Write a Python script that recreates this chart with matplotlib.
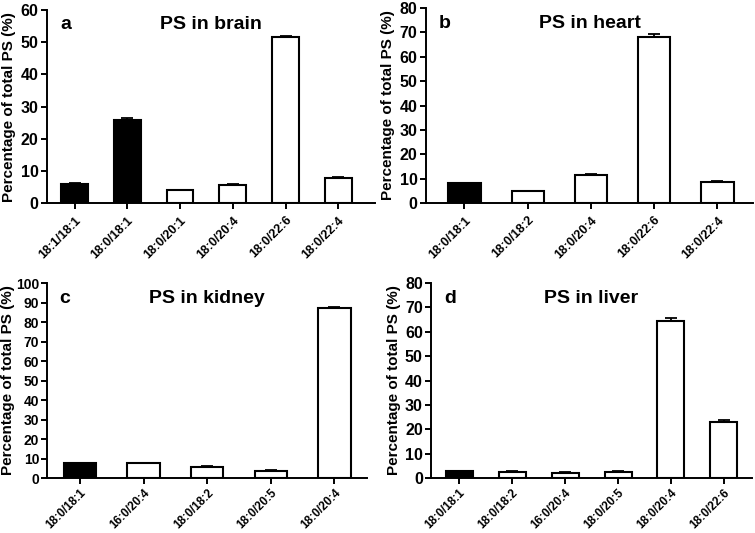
import matplotlib
matplotlib.use('Agg')
import matplotlib.pyplot as plt

plt.rcParams['font.family'] = ['Liberation Sans', 'DejaVu Sans']
plt.rcParams['font.weight'] = 'bold'
plt.rcParams['axes.labelweight'] = 'bold'

# data
brain_labels = ['18:1/18:1', '18:0/18:1', '18:0/20:1', '18:0/20:4', '18:0/22:6', '18:0/22:4']
brain_vals = [6.0, 25.8, 4.0, 5.6, 51.6, 7.8]
brain_err = [0.2, 0.5, 0.2, 0.2, 0.5, 0.2]
brain_black = [True, True, False, False, False, False]

heart_labels = ['18:0/18:1', '18:0/18:2', '18:0/20:4', '18:0/22:6', '18:0/22:4']
heart_vals = [8.1, 4.8, 11.6, 68.0, 8.7]
heart_err = [0.3, 0.3, 0.4, 1.2, 0.3]
heart_black = [True, False, False, False, False]

kidney_labels = ['18:0/18:1', '16:0/20:4', '18:0/18:2', '18:0/20:5', '18:0/20:4']
kidney_vals = [7.5, 7.5, 5.8, 3.8, 87.0]
kidney_err = [0.4, 0.3, 0.2, 0.2, 0.9]
kidney_black = [True, False, False, False, False]

liver_labels = ['18:0/18:1', '18:0/18:2', '16:0/20:4', '18:0/20:5', '18:0/20:4', '18:0/22:6']
liver_vals = [2.8, 2.6, 2.2, 2.7, 64.3, 23.0]
liver_err = [0.2, 0.2, 0.2, 0.2, 1.3, 0.8]
liver_black = [True, False, False, False, False, False]

panels = [
    # letter, title, labels, vals, err, black, ymax, rect, xlim, ytick font, bottom row
    ('a', 'PS in brain', brain_labels, brain_vals, brain_err, brain_black, 60,
     [0.062, 0.619, 0.435, 0.362], (-0.525, 5.7), 11.5, False),
    ('b', 'PS in heart', heart_labels, heart_vals, heart_err, heart_black, 80,
     [0.564, 0.619, 0.434, 0.366], (-0.61, 4.57), 11.5, False),
    ('c', 'PS in kidney', kidney_labels, kidney_vals, kidney_err, kidney_black, 100,
     [0.062, 0.103, 0.424, 0.366], (-0.52, 4.51), 10, True),
    ('d', 'PS in liver', liver_labels, liver_vals, liver_err, liver_black, 80,
     [0.571, 0.103, 0.425, 0.366], (-0.53, 5.53), 11.5, True),
]

fig = plt.figure(figsize=(7.55, 5.33), dpi=100)

for letter, title, labels, vals, err, black, ymax, rect, xlim, yfs, bottom in panels:
    ax = fig.add_axes(rect)
    x = list(range(len(vals)))
    colors = ['black' if b else 'white' for b in black]
    ax.bar(x, vals, width=0.51, color=colors, edgecolor='black', linewidth=1.5, zorder=2)
    ax.errorbar(x, vals, yerr=[[0] * len(err), err], fmt='none', ecolor='black',
                elinewidth=1.3, capsize=4, capthick=1.3, zorder=3)
    ax.set_xlim(*xlim)
    ax.set_ylim(0, ymax)
    ax.set_yticks(range(0, ymax + 1, 10))
    ax.set_xticks(x)
    ax.set_xticklabels(labels, rotation=45, ha='right', va='top',
                       rotation_mode='anchor', fontsize=8.5 if bottom else 9,
                       fontweight='bold')
    for lab in ax.get_yticklabels():
        lab.set_fontsize(yfs)
        lab.set_fontweight('bold')
    ax.tick_params(axis='both', direction='out', length=4, width=1.4)
    ax.tick_params(axis='x', pad=2.5 if bottom else 4)
    ax.tick_params(axis='y', pad=1.5 if ymax == 100 else 2)
    ax.spines['top'].set_visible(False)
    ax.spines['right'].set_visible(False)
    ax.spines['left'].set_linewidth(1.4)
    ax.spines['bottom'].set_linewidth(1.4)
    ax.set_ylabel('Percentage of total PS (%)', fontsize=11, fontweight='bold',
                  labelpad=1 if ymax == 100 else 3)
    ax.text(0.5, 0.9, title, transform=ax.transAxes, ha='center', va='baseline',
            fontsize=14, fontweight='bold')
    ax.text(0.04, 0.9, letter, transform=ax.transAxes, ha='left', va='baseline',
            fontsize=14, fontweight='bold')

fig.savefig('out.png', dpi=100)
